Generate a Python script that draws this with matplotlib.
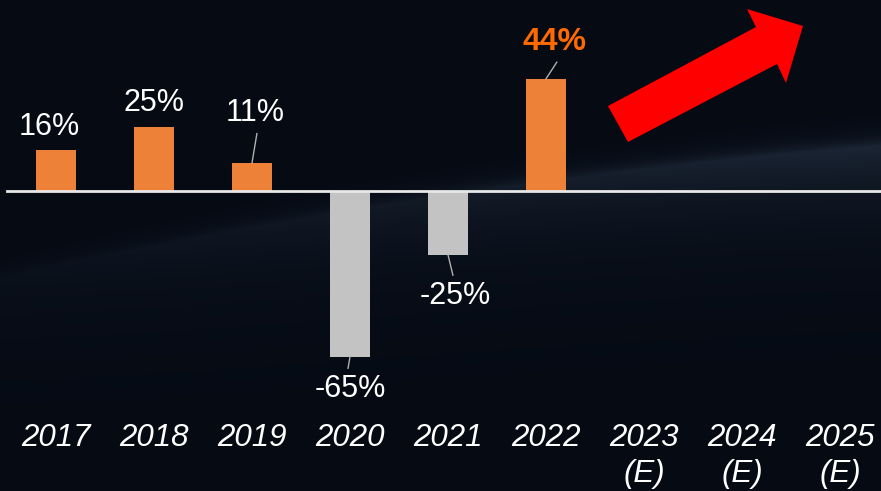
import numpy as np
import matplotlib
matplotlib.use("Agg")
import matplotlib.pyplot as plt
from matplotlib.patches import Polygon

years = ["2017", "2018", "2019", "2020", "2021", "2022", "2023\n(E)", "2024\n(E)", "2025\n(E)"]
growth = [16, 25, 11, -65, -25, 44]
labels = ["16%", "25%", "11%", "-65%", "-25%", "44%"]
# label offsets (x in bar units, y in %) relative to bar end
label_dx = [-0.07, 0.0, 0.03, 0.0, 0.07, 0.09]
label_dy = [9, 9.5, 19.5, -12.5, -16, 14.5]
leader = [False, False, True, True, True, True]

ORANGE = "#ed8137"
GREY = "#c3c3c3"
BG = "#050a13"

W, H = 881, 491
fig = plt.figure(figsize=(W / 100, H / 100), dpi=100)
fig.patch.set_facecolor(BG)

# background: dark sky with a faint planet horizon glow
bg = fig.add_axes([0, 0, 1, 1])
bg.axis("off")
yy, xx = np.mgrid[0:H, 0:W]
horizon = 262 - 0.15 * xx + 0.00008 * (xx - 440) ** 2
d = yy - horizon
glow = np.where(d > 0, np.exp(-d / 60.0), np.exp(d / 10.0)) * (0.25 + 0.75 * xx / W)
base = np.array([5, 10, 19]) / 255.0
lift = np.array([22, 27, 33]) / 255.0
img = base[None, None, :] + glow[..., None] * lift[None, None, :]
bg.imshow(np.clip(img, 0, 1), extent=[0, W, H, 0], aspect="auto")
bg.set_xlim(0, W); bg.set_ylim(H, 0)

ax = fig.add_axes([0, 0, 1, 1])
ax.patch.set_alpha(0)
ax.axis("off")
px = 98.0
ppy = 2.55
ax.set_xlim(-56 / px, (W - 56) / px)
ax.set_ylim(-(H - 191) / ppy, 191 / ppy)

x = np.arange(len(growth))
colors = [ORANGE if v > 0 else GREY for v in growth]
ax.bar(x, growth, width=0.4, color=colors, zorder=2)
ax.plot([-0.5, 8.5], [0, 0], color="#e8e8e8", lw=2, zorder=3)

font = ["Liberation Sans", "DejaVu Sans"]
for i, v in enumerate(growth):
    tx, ty = i + label_dx[i], v + label_dy[i]
    last = i == len(growth) - 1
    ax.text(tx, ty, labels[i], ha="center", va="center", fontsize=23 if last else 22,
            color="#ff6a00" if last else "white", fontweight="bold" if last else "normal",
            family=font, zorder=4)
    if leader[i]:
        sgn = 1 if v > 0 else -1
        ax.plot([i, tx + 0.02 * sgn], [v, ty - sgn * 8], color="#b0b0b0", lw=1, zorder=3)

for i, yr in enumerate(years):
    parts = yr.split("\n")
    ax.text(i, -96.7, parts[0], ha="center", va="center", fontsize=22.5, style="italic",
            color="white", family=font)
    if len(parts) > 1:
        ax.text(i, -111, parts[1], ha="center", va="center", fontsize=22.5, style="italic",
                color="white", family=font)

# red trend arrow (figure pixel coords, y down)
arrow_px = [(608, 106), (756, 27), (747, 9), (803, 26), (786, 83), (777, 64), (628, 142)]
arrow = Polygon([(a / W, 1 - b / H) for a, b in arrow_px], closed=True,
                facecolor="#ff0000", edgecolor="none", transform=fig.transFigure, zorder=5)
fig.patches.append(arrow)

fig.savefig("out.png", dpi=100, facecolor=BG)
